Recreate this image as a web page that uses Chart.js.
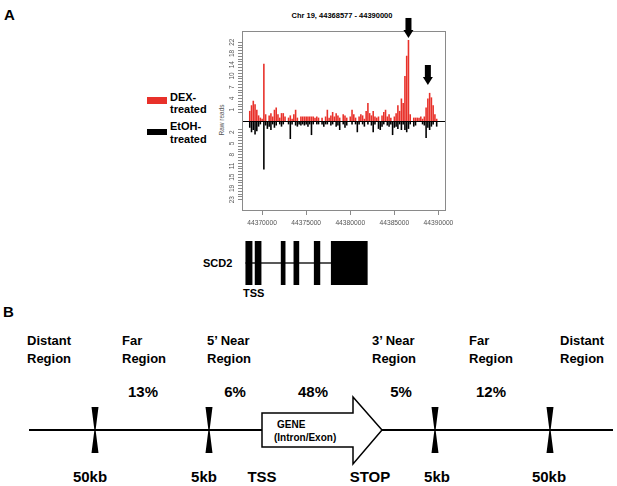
<!DOCTYPE html>
<html>
<head>
<meta charset="utf-8">
<script src="https://cdn.jsdelivr.net/npm/chart.js@4.4.0/dist/chart.umd.min.js"></script>
<style>
  body { margin: 0; width: 617px; height: 486px; position: relative; background: #fff; overflow: hidden;
         font-family: "Liberation Sans", Arial, Helvetica, sans-serif; }
  #art { position: absolute; left: 0; top: 0; }
  #readsChart { position: absolute; left: 200px; top: 0; }
  #geneChart { position: absolute; left: 242px; top: 241px; }
</style>
</head>
<body>
<svg id="art" width="617" height="486" font-family="Liberation Sans, Arial, Helvetica, sans-serif"></svg>
<canvas id="readsChart" width="260" height="240"></canvas>
<canvas id="geneChart" width="204" height="44"></canvas>

<script>
// Panel A: read counts in 200 bp bins, in axis units (one unit = one labelled tick)
const binStart = 44368600;
const binSize = 200;
const dexReads = [
  0.9, 1.4, 1.8, 1.5, 1.0, 0.5, 0.3, 0.2, 5.1, 0.6,
  0, 0.5, 0.7, 0.4, 1.0, 1.2, 0.6, 0.3, 0.7, 0.7,
  0.4, 0, 0.3, 0.5, 0.2, 0.6, 1.0, 0.3, 0, 0.4,
  0.4, 0.4, 0.4, 0.4, 0.4, 0.4, 0.4, 0.3, 0.4, 0.3,
  0, 0.3, 0, 0.4, 1.0, 0.3, 0.5, 0.8, 0.4, 0.7,
  0.5, 0.3, 0, 0.6, 0.5, 0.3, 0, 0.4, 1.0, 0.6,
  0.3, 0, 0.4, 0.6, 0.5, 0.2, 0.9, 1.6, 0.7, 0.5,
  0.9, 0.4, 0.3, 0.4, 0, 0.5, 0.8, 1.0, 0.4, 0.6,
  0.3, 0, 0.4, 0.7, 1.4, 0.9, 2.0, 1.6, 4.0, 5.8,
  7.2, 0.6, 0, 0.3, 0.3, 0.3, 0.3, 0.4, 0.2, 0.4,
  1.2, 2.0, 2.5, 2.1, 1.4, 0.6, 0.2, 0
];
const etohReads = [
  0.6, 1.0, 0.8, 1.2, 0.9, 0.5, 0.3, 0, 4.3, 0.4,
  0.7, 0.5, 0.8, 0.3, 0.6, 0.4, 0, 0.3, 0.5, 0.3,
  0, 0, 0.3, 1.6, 0.3, 0, 0.4, 0.5, 0.3, 0.4,
  0.3, 0.4, 0.3, 0.5, 0.3, 1.25, 0.3, 0, 0.3, 0.3,
  0, 0.3, 0.5, 0.3, 0.3, 0, 0.4, 0.3, 0, 0.5,
  0.4, 0.8, 0, 0.3, 0.6, 0.4, 0, 0, 0.3, 0,
  0.3, 1.0, 0.3, 0, 0.3, 0.5, 0, 0.3, 0, 0.4,
  1.0, 0.3, 0, 0.7, 0.8, 0.5, 0.3, 0, 0.4, 0.5,
  0.3, 1.25, 0.6, 0.5, 0.7, 0.3, 0.8, 0.3, 0.8, 1.0,
  0.7, 0.3, 0, 0.5, 0.4, 0, 0, 0, 0.3, 0.4,
  1.5, 0.6, 0.8, 0.5, 0.3, 0, 0.5, 0
];
const xMin = 44367720;
const xMax = 44390857;
const xTicks = [44370000, 44375000, 44380000, 44385000, 44390000];
const yLabelsUp = ['1', '4', '7', '10', '14', '18', '22'];
const yLabelsDown = ['2', '5', '8', '11', '15', '19', '23'];
const arrowPos = [44386600, 44388800];
const arrowTip = [7.38, 3.2];

// SCD2 gene model
const exonStart = [44368148, 44369205, 44372159, 44373602, 44375909, 44377841];
const exonEnd = [44368864, 44369886, 44372614, 44374170, 44376557, 44381932];

// Panel B
const regionNames = [['Distant', 'Region'], ['Far', 'Region'], ['5\u2019 Near', 'Region'],
                     ['3\u2019 Near', 'Region'], ['Far', 'Region'], ['Distant', 'Region']];
const regionPct = ['13%', '6%', '48%', '5%', '12%'];
const markLabels = ['50kb', '5kb', 'TSS', 'STOP', '5kb', '50kb'];

const RED = '#e8312a';
const FONT = 'Liberation Sans, Arial, Helvetica, sans-serif';

// ---------- SVG text and panel B ----------
const svg = document.getElementById('art');
const NS = 'http://www.w3.org/2000/svg';
function el(tag, attrs, text) {
  const e = document.createElementNS(NS, tag);
  for (const k in attrs) e.setAttribute(k, attrs[k]);
  if (text !== undefined) e.textContent = text;
  svg.appendChild(e);
  return e;
}
function label(x, y, size, text, extra) {
  return el('text', Object.assign({ x: x, y: y, 'font-size': size, 'font-weight': 'bold', fill: '#000' }, extra || {}), text);
}

label(4, 20, 15, 'A');
label(3, 317, 15, 'B');

// legend
el('rect', { x: 147, y: 97, width: 20, height: 7, fill: RED });
label(170, 101, 11, 'DEX-');
label(170, 113, 11, 'treated');
el('rect', { x: 147, y: 129, width: 20, height: 6, fill: '#000' });
label(170, 130, 11, 'EtOH-');
label(170, 143, 11, 'treated');

// chart title / axis title
label(342, 18, 7.5, 'Chr 19, 44368577 - 44390000', { 'text-anchor': 'middle' });
el('text', { x: 0, y: 0, 'font-size': 6.5, fill: '#555', 'text-anchor': 'middle',
             transform: 'translate(224,120) rotate(-90)' }, 'Raw reads');

// gene model labels
label(203, 267, 11, 'SCD2');
label(243, 297, 11, 'TSS');

// panel B schematic
const regionX = [27, 122, 207, 372, 469, 560];
regionNames.forEach((n, i) => {
  label(regionX[i], 345, 13, n[0]);
  label(regionX[i], 363, 13, n[1]);
});
const pctX = [143, 235, 313, 401, 491];
regionPct.forEach((p, i) => label(pctX[i], 397, 15, p, { 'text-anchor': 'middle' }));
const markX = [90, 204, 262, 370, 437, 549];
markLabels.forEach((m, i) => label(markX[i], 482, 15, m, { 'text-anchor': 'middle' }));

el('line', { x1: 29, y1: 430, x2: 262, y2: 430, stroke: '#000', 'stroke-width': 2 });
el('line', { x1: 382, y1: 430, x2: 613, y2: 430, stroke: '#000', 'stroke-width': 2 });
el('path', { d: 'M262,413 L353,413 L353,397 L382,430 L353,464 L353,447 L262,447 Z',
             fill: '#fff', stroke: '#000', 'stroke-width': 1.5 });
label(277, 428, 10, 'GENE');
label(274, 441, 10, '(Intron/Exon)');
[95, 209, 435, 550].forEach(x => {
  el('path', { d: `M${x - 3.5},407 L${x + 3.5},407 L${x + 0.6},430 L${x + 3.5},453 L${x - 3.5},453 L${x - 0.6},430 Z`, fill: '#000' });
});

// ---------- Panel A: reads chart ----------
const framePlugin = {
  id: 'frame',
  afterDatasetsDraw(chart) {
    const { ctx, chartArea: a, scales: { x, y } } = chart;
    ctx.save();
    // zero line
    ctx.strokeStyle = '#000';
    ctx.lineWidth = 1;
    const y0 = Math.round(y.getPixelForValue(0)) + 0.5;
    ctx.beginPath(); ctx.moveTo(a.left, y0); ctx.lineTo(a.right, y0); ctx.stroke();
    // box
    ctx.strokeStyle = '#8a8a8a';
    ctx.strokeRect(a.left + 0.5, a.top + 0.5, a.right - a.left - 1, a.bottom - a.top - 1);
    // rotated y tick labels
    ctx.fillStyle = '#555';
    ctx.font = '6.5px ' + FONT;
    ctx.textAlign = 'center';
    ctx.textBaseline = 'middle';
    for (let k = 1; k <= 7; k++) {
      [[k, yLabelsUp[k - 1]], [-k, yLabelsDown[k - 1]]].forEach(([v, t]) => {
        ctx.save();
        ctx.translate(a.left - 10, y.getPixelForValue(v));
        ctx.rotate(-Math.PI / 2);
        ctx.fillText(t, 0, 0);
        ctx.restore();
      });
    }
    // arrows over the peaks
    ctx.fillStyle = '#000';
    arrowPos.forEach((p, i) => {
      const px = x.getPixelForValue(p);
      const tip = y.getPixelForValue(arrowTip[i]);
      ctx.fillRect(px - 3, tip - 20, 6, 13);
      ctx.beginPath();
      ctx.moveTo(px - 5, tip - 8);
      ctx.lineTo(px + 5, tip - 8);
      ctx.lineTo(px, tip);
      ctx.closePath();
      ctx.fill();
    });
    ctx.restore();
  }
};

const yMinor = [];
for (let v = -7; v <= 7.001; v += 0.25) {
  if (Math.abs(v) >= 0.75) yMinor.push(Math.round(v * 100) / 100);
}

new Chart(document.getElementById('readsChart'), {
  type: 'bar',
  data: {
    datasets: [
      {
        label: 'DEX-treated',
        data: dexReads.map((v, i) => ({ x: binStart + i * binSize, y: v })),
        backgroundColor: RED,
        grouped: false,
        barPercentage: 1,
        categoryPercentage: 0.9
      },
      {
        label: 'EtOH-treated',
        data: etohReads.map((v, i) => ({ x: binStart + i * binSize, y: -v })),
        backgroundColor: '#000',
        grouped: false,
        barPercentage: 1,
        categoryPercentage: 0.9
      }
    ]
  },
  options: {
    responsive: false,
    animation: false,
    devicePixelRatio: 1,
    layout: { padding: { top: 31, right: 14, left: 0, bottom: 0 } },
    plugins: { legend: { display: false }, tooltip: { enabled: false } },
    scales: {
      x: {
        type: 'linear',
        offset: false,
        min: xMin,
        max: xMax,
        afterBuildTicks: s => { s.ticks = xTicks.map(v => ({ value: v })); },
        afterFit: s => { s.height = 29; s.paddingLeft = 0; s.paddingRight = 0; },
        border: { display: false },
        grid: { offset: false, drawOnChartArea: false, tickLength: 4, color: '#8a8a8a' },
        ticks: { color: '#555', font: { size: 6.7, family: FONT }, maxRotation: 0, autoSkip: false, padding: 4,
                 callback: v => String(v) }
      },
      y: {
        min: -8,
        max: 8,
        afterBuildTicks: s => { s.ticks = yMinor.map(v => ({ value: v })); },
        afterFit: s => { s.width = 42; s.paddingTop = 0; s.paddingBottom = 0; },
        border: { display: false },
        grid: { drawOnChartArea: false, tickLength: 4, color: '#8a8a8a' },
        ticks: { display: false }
      }
    }
  },
  plugins: [framePlugin]
});

// ---------- gene model ----------
new Chart(document.getElementById('geneChart'), {
  type: 'bar',
  data: {
    labels: ['SCD2'],
    datasets: [
      {
        data: exonStart.map((s, i) => ({ x: [s, exonEnd[i]], y: 'SCD2' })),
        backgroundColor: '#000',
        grouped: false,
        barPercentage: 1,
        categoryPercentage: 1
      },
      {
        data: [{ x: [exonStart[0], exonStart[exonStart.length - 1]], y: 'SCD2' }],
        backgroundColor: '#222',
        grouped: false,
        barThickness: 1
      }
    ]
  },
  options: {
    indexAxis: 'y',
    responsive: false,
    animation: false,
    devicePixelRatio: 1,
    layout: { padding: 0 },
    plugins: { legend: { display: false }, tooltip: { enabled: false } },
    scales: {
      x: { type: 'linear', min: xMin, max: xMax, display: false },
      y: { type: 'category', display: false }
    }
  }
});
</script>
</body>
</html>
